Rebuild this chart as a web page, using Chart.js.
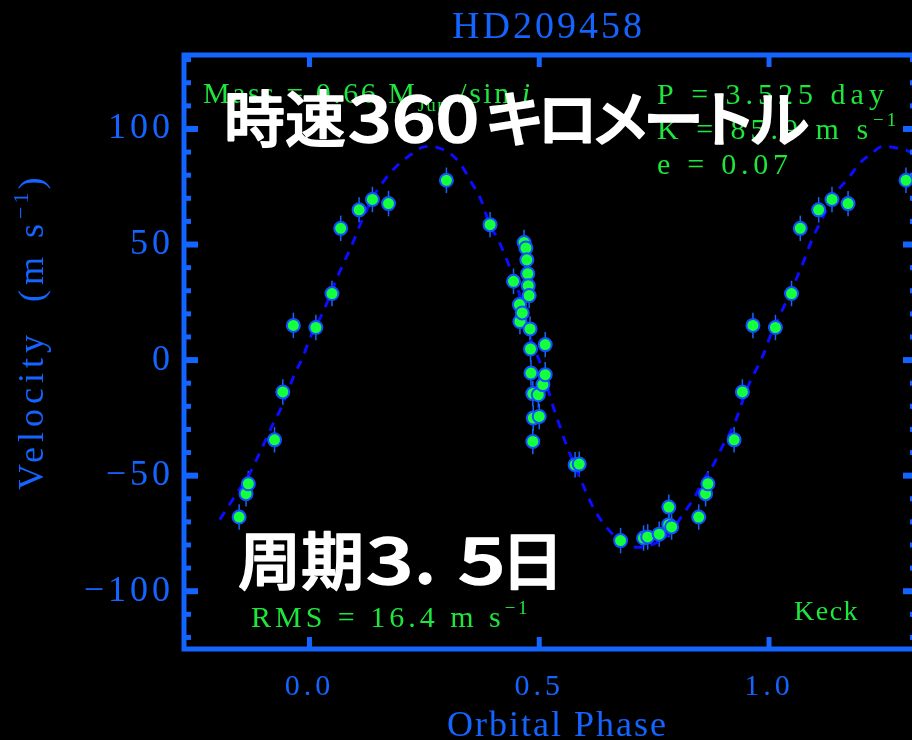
<!DOCTYPE html>
<html>
<head>
<meta charset="utf-8">
<title>HD209458</title>
<script src="https://cdn.jsdelivr.net/npm/chart.js@4.4.1/dist/chart.umd.min.js"></script>
<style>
  html, body { margin: 0; padding: 0; background: #000; overflow: hidden; }
  canvas { display: block; }
</style>
</head>
<body>
<canvas id="chart" width="960" height="740"></canvas>
<script>
// Keck velocities folded on P = 3.525 d (phase, m/s)
const obsPhase = [0.014, 0.049, 0.068, 0.108, 0.137, 0.172, 0.298, 0.393, 0.444, 0.457, 0.458, 0.463,
  0.467, 0.471, 0.473, 0.475, 0.476, 0.478, 0.480, 0.481, 0.482, 0.486, 0.486, 0.487, 0.498, 0.500,
  0.508, 0.513, 0.513, 0.578, 0.587, 0.677, 0.727, 0.736, 0.761, 0.782, 0.788, 0.782, 0.847, 0.862,
  0.867, 0.924, 0.942, 0.965];
const obsVel = [14.1, 28.8, 57.0, 65.0, 69.5, 67.7, 77.8, 58.6, 34.1, 24.0, 16.7, 20.4,
  50.9, 48.5, 43.4, 37.4, 32.2, 27.9, 13.5, 4.8, -5.6, -14.5, -35.2, -25.1, -15.0, -24.4,
  -10.6, 6.7, -6.3, -45.3, -45.0, -78.1, -77.0, -76.5, -75.3, -71.2, -72.2, -63.6, -67.9, -57.8,
  -53.5, -34.5, -13.8, 15.0];
const errBar = 5.5;

// orbit fit (dashed curve)
const fitPhase = [-0.195, -0.166, -0.130, -0.108, -0.079, -0.060, -0.032, -0.013, 0.001, 0.030, 0.063, 0.095,
  0.111, 0.140, 0.160, 0.190, 0.218, 0.245, 0.265, 0.285, 0.305, 0.330, 0.349, 0.374, 0.393, 0.407,
  0.422, 0.436, 0.451, 0.470, 0.487, 0.498, 0.515, 0.531, 0.545, 0.556, 0.580, 0.603, 0.618, 0.639,
  0.665, 0.697, 0.715, 0.735, 0.760, 0.785, 0.817, 0.839, 0.857, 0.879, 0.897, 0.915, 0.928, 0.941,
  0.959, 0.975, 0.991, 1.002, 1.024, 1.038, 1.057, 1.078, 1.093, 1.111, 1.140, 1.173, 1.198, 1.220,
  1.249, 1.278, 1.307, 1.325];
const fitVel = [-69, -60, -49, -40, -27.5, -20, -6, 2, 9.5, 21, 37, 51,
  59, 71, 77, 84, 88.5, 92, 92.5, 91.5, 89.6, 84.5, 78, 69, 58, 53.5,
  47, 40, 32, 20, 5, 0.9, -10, -20.5, -28.7, -35, -47, -57.5, -64, -70.5,
  -76.3, -80.5, -81, -80.5, -78.5, -74.5, -65.5, -59, -52, -45.3, -38, -31.5, -26, -18.5,
  -9.2, -3, 4, 10, 19.6, 25.5, 34, 44, 52, 59.3, 70.8, 78.8, 85.3, 88.9,
  92.5, 91.8, 90, 87];

const xTicks = [0, 0.5, 1.0];
const xTickLabels = ['0.0', '0.5', '1.0'];
const yTicks = [-100, -50, 0, 50, 100];
const yTickLabels = ['\u2212100', '\u221250', '0', '50', '100'];
const yMinor = [-120, -110, -100, -90, -80, -70, -60, -50, -40, -30, -20, -10, 0,
  10, 20, 30, 40, 50, 60, 70, 80, 90, 100, 110, 120, 130];

const BLUE = '#1464ff';
const CURVE = '#0c0cff';
const GREEN = '#1ee63c';
const SERIF = '"Liberation Serif", "DejaVu Serif", serif';
const CJK = '"Noto Sans CJK JP", sans-serif';

// the plot repeats points a bit past both ends of one orbit
const points = [];
obsPhase.forEach((p, i) => {
  points.push({ x: p, y: obsVel[i] });
  if (p >= 0.8) points.push({ x: p - 1, y: obsVel[i] });
  if (p <= 0.3) points.push({ x: p + 1, y: obsVel[i] });
});
const fit = fitPhase.map((p, i) => ({ x: p, y: fitVel[i] }));

function drawParts(ctx, parts, x, y, size, spacing) {
  let cx = x;
  parts.forEach(p => {
    const part = typeof p === 'string' ? { t: p } : p;
    const small = part.sup || part.sub;
    const fs = small ? Math.round(size * 0.62) : size;
    ctx.font = (part.it ? 'italic ' : '') + fs + 'px ' + SERIF;
    ctx.letterSpacing = (small ? spacing * 0.6 : spacing) + 'px';
    const dy = part.sup ? -size * 0.42 : part.sub ? size * 0.28 : 0;
    ctx.fillText(part.t, cx, y + dy);
    cx += ctx.measureText(part.t).width;
  });
}

// big caption text, sx widens the digits a little
function caption(ctx, text, x, y, size, sx, spacing) {
  ctx.save();
  ctx.translate(x, y);
  ctx.scale(sx, 1);
  ctx.font = '500 ' + size + 'px ' + CJK;
  ctx.letterSpacing = spacing + 'px';
  ctx.strokeStyle = '#ffffff';
  ctx.lineWidth = 1.6;
  ctx.lineJoin = 'round';
  ctx.fillText(text, 0, 0);
  ctx.strokeText(text, 0, 0);
  ctx.restore();
}

const framePlugin = {
  id: 'frame',
  beforeDraw(chart) {
    chart.ctx.letterSpacing = '4px';
  },
  beforeDatasetsDraw(chart) {
    const { ctx, scales: { x, y } } = chart;
    ctx.save();
    ctx.strokeStyle = BLUE;
    ctx.lineWidth = 1.5;
    points.forEach(pt => {
      const px = x.getPixelForValue(pt.x);
      ctx.beginPath();
      ctx.moveTo(px, y.getPixelForValue(pt.y - errBar));
      ctx.lineTo(px, y.getPixelForValue(pt.y + errBar));
      ctx.stroke();
    });
    ctx.restore();
  },
  afterDatasetsDraw(chart) {
    const { ctx, chartArea: a, scales: { x, y } } = chart;
    ctx.save();
    ctx.strokeStyle = BLUE;
    ctx.fillStyle = BLUE;
    ctx.lineWidth = 5;
    ctx.strokeRect(a.left, a.top, a.right - a.left, a.bottom - a.top);
    yMinor.forEach(v => {
      const py = y.getPixelForValue(v);
      const major = yTicks.includes(v);
      const len = major ? 14 : 7;
      const h = major ? 6 : 5;
      ctx.fillRect(a.left, py - h / 2, len, h);
      ctx.fillRect(a.right - len, py - h / 2, len, h);
    });
    xTicks.forEach(v => {
      const px = x.getPixelForValue(v);
      ctx.fillRect(px - 2.5, a.bottom - 12, 5, 12);
      ctx.fillRect(px - 2.5, a.top, 5, 12);
    });
    ctx.restore();
  },
  afterDraw(chart) {
    const ctx = chart.ctx;
    ctx.save();
    ctx.textAlign = 'left';
    ctx.textBaseline = 'alphabetic';

    // titles
    ctx.fillStyle = BLUE;
    drawParts(ctx, ['HD209458'], 452, 38, 38, 3);
    drawParts(ctx, ['Orbital Phase'], 447, 736, 36, 2);
    ctx.save();
    ctx.translate(43, 490);
    ctx.rotate(-Math.PI / 2);
    drawParts(ctx, ['Velocity  (m s', { t: '\u22121', sup: true }, ')'], 0, 0, 36, 5);
    ctx.restore();

    // fit parameters
    ctx.fillStyle = GREEN;
    drawParts(ctx, ['Mass = 0.66 M', { t: 'Jup', sub: true }, ' /sin ', { t: 'i', it: true }], 203, 103, 30, 2.5);
    drawParts(ctx, ['P = 3.525 day'], 657, 104, 30, 5);
    drawParts(ctx, ['K = 85.9 m s', { t: '\u22121', sup: true }], 657, 139, 30, 5);
    drawParts(ctx, ['e = 0.07'], 657, 174, 30, 4.75);
    drawParts(ctx, ['RMS = 16.4 m s', { t: '\u22121', sup: true }], 251, 627, 30, 4);
    drawParts(ctx, ['Keck'], 794, 620, 28, 1.5);

    // white captions
    ctx.fillStyle = '#ffffff';
    caption(ctx, '時速', 224, 142, 61, 1, 0);
    caption(ctx, '360', 348, 142, 64, 1.2, 0);
    caption(ctx, 'キロメートル', 484, 142, 61, 1, -8);
    caption(ctx, '周期', 238, 584, 63, 1, 0);
    caption(ctx, '3', 366, 584, 64, 1.3, 0);
    caption(ctx, '．', 409, 584, 63, 1, 0);
    caption(ctx, '5', 458, 584, 64, 1.3, 0);
    caption(ctx, '日', 501, 584, 63, 1, 0);
    ctx.restore();
  }
};

new Chart(document.getElementById('chart'), {
  type: 'scatter',
  data: {
    datasets: [
      {
        data: points,
        order: 0,
        pointRadius: 6.5,
        pointBackgroundColor: '#14ff3c',
        pointBorderColor: '#1450ff',
        pointBorderWidth: 2
      },
      {
        data: fit,
        order: 1,
        showLine: true,
        pointRadius: 0,
        borderColor: CURVE,
        borderWidth: 3,
        borderDash: [9, 8],
        cubicInterpolationMode: 'monotone'
      }
    ]
  },
  options: {
    responsive: false,
    animation: false,
    events: [],
    layout: { padding: { left: 0, right: 43, top: 55, bottom: 0 } },
    plugins: { legend: { display: false }, tooltip: { enabled: false } },
    scales: {
      x: {
        type: 'linear',
        min: -0.273,
        max: 1.322,
        afterBuildTicks: s => { s.ticks = xTicks.map(v => ({ value: v })); },
        afterFit: s => { s.height = 91; },
        grid: { display: false, drawTicks: false },
        border: { display: false },
        ticks: {
          color: BLUE,
          font: { family: SERIF, size: 30 },
          padding: 20,
          maxRotation: 0,
          autoSkip: false,
          callback: (v, i) => xTickLabels[i]
        }
      },
      y: {
        min: -125,
        max: 132,
        afterBuildTicks: s => { s.ticks = yTicks.map(v => ({ value: v })); },
        afterFit: s => { s.width = 184; },
        grid: { display: false, drawTicks: false },
        border: { display: false },
        ticks: {
          color: BLUE,
          font: { family: SERIF, size: 36 },
          padding: 10,
          callback: (v, i) => yTickLabels[i]
        }
      }
    }
  },
  plugins: [framePlugin]
});
</script>
</body>
</html>
